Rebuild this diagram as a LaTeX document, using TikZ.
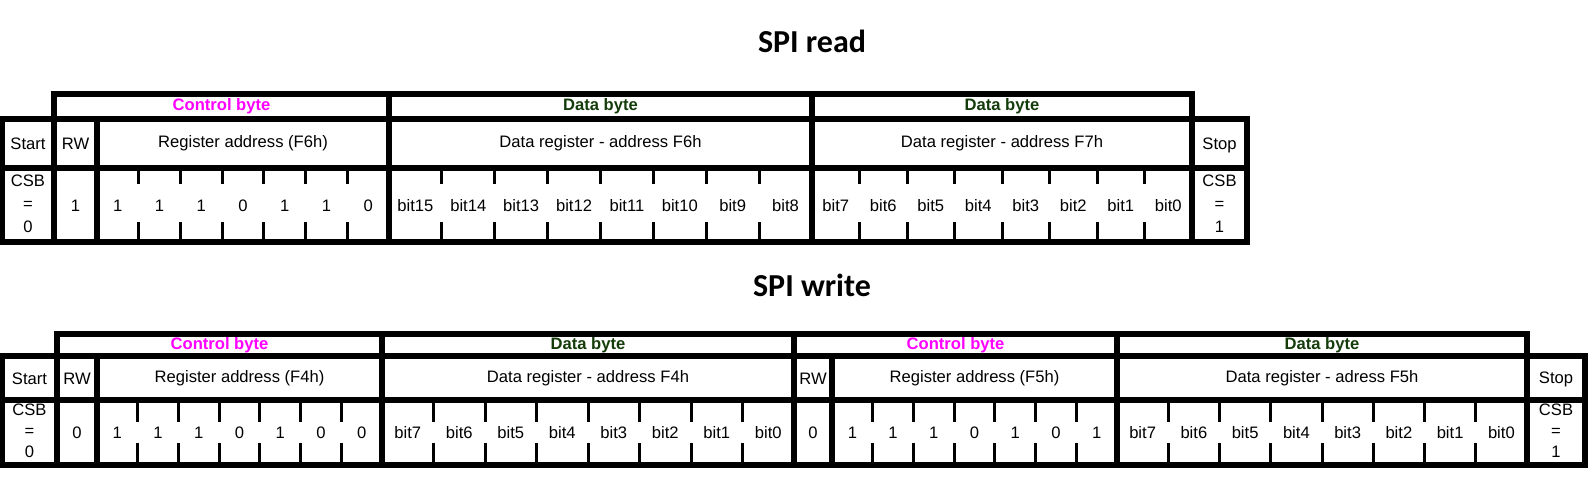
\documentclass[tikz,border=0pt]{standalone}
\usepackage{fontspec}
\setmainfont{Liberation Sans}
\newfontfamily\titlefont{Carlito}
\usepackage{tikz}
\definecolor{ctrlpink}{RGB}{255,0,255}
\definecolor{datagreen}{RGB}{20,60,10}

\tikzset{
  frame/.style={line width=2.6pt, line cap=rect},
  tick/.style={line width=1.5pt},
  cell/.style={font=\fontsize{8.3}{11.5}\selectfont, align=center, inner sep=0pt},
  ctrlhead/.style={cell, font=\fontsize{8.3}{10}\selectfont\bfseries, text=ctrlpink, anchor=base},
  datahead/.style={cell, font=\fontsize{8.3}{10}\selectfont\bfseries, text=datagreen, anchor=base},
  heading/.style={font=\titlefont\bfseries\fontsize{16}{19}\selectfont, anchor=base, inner sep=0pt}
}

\begin{document}
\begin{tikzpicture}[x=0.5pt, y=-0.5pt]
      \useasboundingbox (0,0) rectangle (1593,494);

      % ---------- SPI read ----------
      \node[heading] (readtitle) at (812,52) {SPI read};

      % horizontal lines of the read frame
      \draw[frame] (54,94) -- (1192,94);
      \draw[frame] (2,119) -- (1247,119);
      \draw[frame] (2,168) -- (1247,168);
      \draw[frame] (2,242) -- (1247,242);

      % vertical lines of the read frame
      \draw[frame] (2,119) -- (2,242);       % left edge
      \draw[frame] (54,94) -- (54,242);      % Start | RW
      \draw[frame] (97,119) -- (97,242);     % RW | address
      \draw[frame] (389,94) -- (389,242);    % control byte | data byte
      \draw[frame] (812,94) -- (812,242);    % data byte | data byte
      \draw[frame] (1192,94) -- (1192,242);  % data byte | Stop
      \draw[frame] (1247,119) -- (1247,242); % right edge

      % byte headings
      \node[ctrlhead] (rctrl) at (221.5,110) {Control byte};
      \node[datahead] (rdataA) at (600.5,110) {Data byte};
      \node[datahead] (rdataB) at (1002,110) {Data byte};

      % field names
      \node[cell] (rstart) at (28,144) {Start};
      \node[cell] (rrw) at (75.5,144) {RW};
      \node[cell] (raddr) at (243,143) {Register address (F6h)};
      \node[cell] (rregA) at (600.5,143) {Data register - address F6h};
      \node[cell] (rregB) at (1002,143) {Data register - address F7h};
      \node[cell] (rstop) at (1219.5,145) {Stop};

      % bit row
      \node[cell] (rcsb0) at (28,204) {CSB\\=\\0};
      \node[cell] (rrwbit) at (75.5,206) {1};
      \foreach \v [count=\i] in {1,1,1,0,1,1,0}
        \node[cell] (ra\i) at ({97+(\i-0.5)*41.71},206) {\v};
      \foreach \v [count=\i] in {15,14,13,12,11,10,9,8}
        \node[cell] (rdA\i) at ({389+(\i-0.5)*52.875},206) {bit\v};
      \foreach \v [count=\i] in {7,6,5,4,3,2,1,0}
        \node[cell] (rdB\i) at ({812+(\i-0.5)*47.5},206) {bit\v};
      \node[cell] (rcsb1) at (1219.5,204) {CSB\\=\\1};

      % bit ticks
      \foreach \i in {1,...,6} {
        \draw[tick] ({97+\i*41.71},168) -- ++(0,16);
        \draw[tick] ({97+\i*41.71},242) -- ++(0,-20);
      }
      \foreach \i in {1,...,7} {
        \draw[tick] ({389+\i*52.875},168) -- ++(0,16);
        \draw[tick] ({389+\i*52.875},242) -- ++(0,-20);
        \draw[tick] ({812+\i*47.5},168) -- ++(0,16);
        \draw[tick] ({812+\i*47.5},242) -- ++(0,-20);
      }

      % ---------- SPI write ----------
      \node[heading] (writetitle) at (812,296) {SPI write};

      % horizontal lines of the write frame
      \draw[frame] (57,334) -- (1527,334);
      \draw[frame] (2,356) -- (1585,356);
      \draw[frame] (2,400) -- (1585,400);
      \draw[frame] (2,465) -- (1585,465);

      % vertical lines of the write frame
      \draw[frame] (2,356) -- (2,465);       % left edge
      \draw[frame] (57,334) -- (57,465);     % Start | RW
      \draw[frame] (97,356) -- (97,465);     % RW | address
      \draw[frame] (382,334) -- (382,465);   % control byte | data byte
      \draw[frame] (794,334) -- (794,465);   % data byte | control byte
      \draw[frame] (832,356) -- (832,465);   % RW | address
      \draw[frame] (1117,334) -- (1117,465); % control byte | data byte
      \draw[frame] (1527,334) -- (1527,465); % data byte | Stop
      \draw[frame] (1585,356) -- (1585,465); % right edge

      % byte headings
      \node[ctrlhead] (wctrlA) at (219.5,349) {Control byte};
      \node[datahead] (wdataA) at (588,349) {Data byte};
      \node[ctrlhead] (wctrlB) at (955.5,349) {Control byte};
      \node[datahead] (wdataB) at (1322,349) {Data byte};

      % field names
      \node[cell] (wstart) at (29.5,379) {Start};
      \node[cell] (wrwA) at (77,379) {RW};
      \node[cell] (waddrA) at (239.5,378) {Register address (F4h)};
      \node[cell] (wregA) at (588,378) {Data register - address F4h};
      \node[cell] (wrwB) at (813,379) {RW};
      \node[cell] (waddrB) at (974.5,378) {Register address (F5h)};
      \node[cell] (wregB) at (1322,378) {Data register - adress F5h};
      \node[cell] (wstop) at (1556,379) {Stop};

      % bit row
      \node[cell, execute at begin node={\baselineskip=10.5pt}] (wcsb0) at (29.5,431) {CSB\\=\\0};
      \node[cell] (wrwbitA) at (77,433) {0};
      \foreach \v [count=\i] in {1,1,1,0,1,0,0}
        \node[cell] (waA\i) at ({97+(\i-0.5)*40.71},433) {\v};
      \foreach \v [count=\i] in {7,6,5,4,3,2,1,0}
        \node[cell] (wdA\i) at ({382+(\i-0.5)*51.5},433) {bit\v};
      \node[cell] (wrwbitB) at (813,433) {0};
      \foreach \v [count=\i] in {1,1,1,0,1,0,1}
        \node[cell] (waB\i) at ({832+(\i-0.5)*40.71},433) {\v};
      \foreach \v [count=\i] in {7,6,5,4,3,2,1,0}
        \node[cell] (wdB\i) at ({1117+(\i-0.5)*51.25},433) {bit\v};
      \node[cell, execute at begin node={\baselineskip=10.5pt}] (wcsb1) at (1556,431) {CSB\\=\\1};

      % bit ticks
      \foreach \i in {1,...,6} {
        \draw[tick] ({97+\i*40.71},400) -- ++(0,22);
        \draw[tick] ({97+\i*40.71},465) -- ++(0,-22);
        \draw[tick] ({832+\i*40.71},400) -- ++(0,22);
        \draw[tick] ({832+\i*40.71},465) -- ++(0,-22);
      }
      \foreach \i in {1,...,7} {
        \draw[tick] ({382+\i*51.5},400) -- ++(0,22);
        \draw[tick] ({382+\i*51.5},465) -- ++(0,-22);
        \draw[tick] ({1117+\i*51.25},400) -- ++(0,22);
        \draw[tick] ({1117+\i*51.25},465) -- ++(0,-22);
      }
    \end{tikzpicture}
\end{document}
